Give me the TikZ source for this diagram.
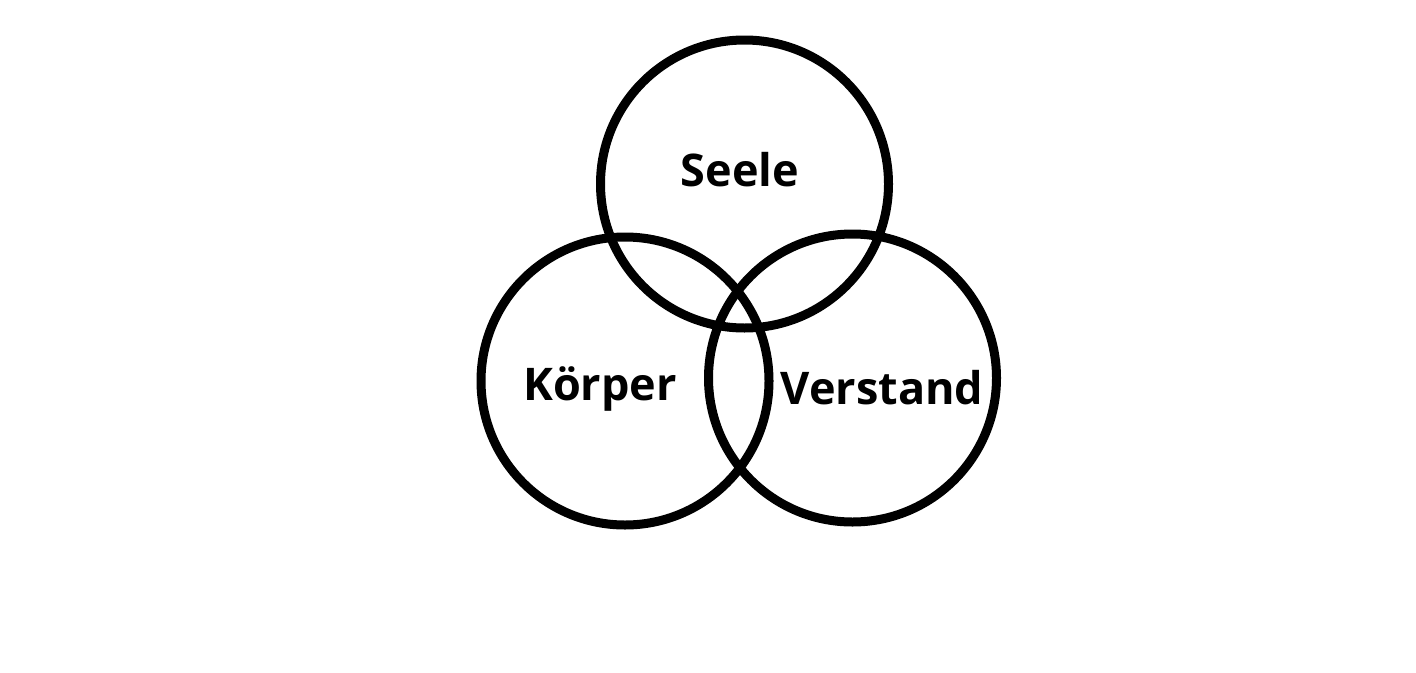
\documentclass[tikz,border=0pt]{standalone}
\usepackage{fontspec}
\setmainfont{Open Sans}
\begin{document}
\begin{tikzpicture}[x=1pt,y=-1pt,
  ring/.style={draw=black,line width=9pt,circle,minimum size=288pt,inner sep=0pt},
  lbl/.style={font=\bfseries\fontsize{45}{50}\selectfont,anchor=base,inner sep=0pt}]
\useasboundingbox (0,0) rectangle (1416,672);
\node[ring] (seele) at (744.5,184) {};
\node[ring] (koerper) at (625,381) {};
\node[ring] (verstand) at (852.5,378) {};
\node[lbl] (tseele) at (740,186) {Seele};
\node[lbl] (tkoerper) at (600,400) {Körper};
\node[lbl] (tverstand) at (882,404) {Verstand};
\end{tikzpicture}
\end{document}
